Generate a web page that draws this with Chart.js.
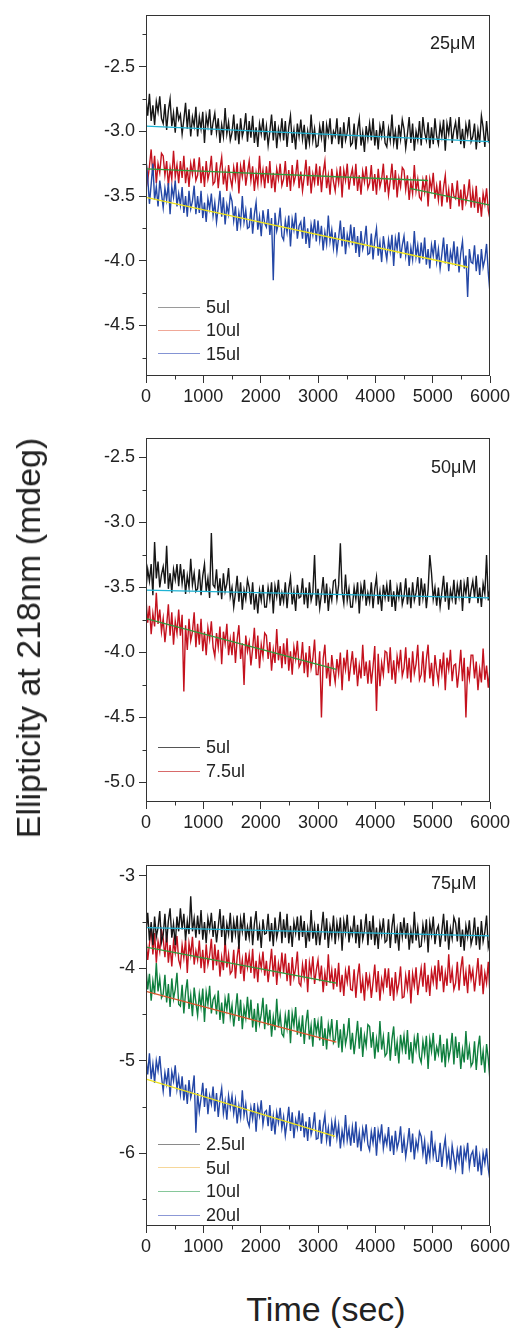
<!DOCTYPE html>
<html>
<head>
<meta charset="utf-8">
<script src="https://cdn.jsdelivr.net/npm/chart.js@4.4.1/dist/chart.umd.min.js"></script>
<style>
  body { margin: 0; background: #fff; width: 514px; height: 1328px; position: relative; overflow: hidden; font-family: 'Liberation Sans', Arial, sans-serif; color: #222; }
  canvas { position: absolute; left: 0; }
  .txt { position: absolute; white-space: nowrap; line-height: 1; }
  .leg { position: absolute; left: 158px; height: 20px; font-size: 18px; white-space: nowrap; }
  .leg span { display: inline-block; width: 42px; height: 0; border-top: 1px solid; vertical-align: middle; margin-right: 6px; position: relative; top: -1px; }
</style>
</head>
<body>
<canvas id="c1" width="514" height="416" style="top:0px"></canvas>
<canvas id="c2" width="514" height="422" style="top:420px"></canvas>
<canvas id="c3" width="514" height="416" style="top:850px"></canvas>

<div class="txt" style="left:28px; top:638px; font-size:34px; transform: translate(-50%,-50%) rotate(-90deg);">Ellipticity at 218nm (mdeg)</div>
<div class="txt" style="left:326px; top:1309px; font-size:34px; transform: translate(-50%,-50%);">Time (sec)</div>
<div class="txt" style="left:430px; top:34px; font-size:18px;">25μM</div>
<div class="txt" style="left:431px; top:458px; font-size:18px;">50μM</div>
<div class="txt" style="left:431px; top:874px; font-size:18px;">75μM</div>

<script>
// time axis (sec), one reading every 30 s
const times = [0,30,60,90,120,150,180,210,240,270,300,330,360,390,420,450,480,510,540,570,
  600,630,660,690,720,750,780,810,840,870,900,930,960,990,1020,1050,1080,1110,1140,1170,
  1200,1230,1260,1290,1320,1350,1380,1410,1440,1470,1500,1530,1560,1590,1620,1650,1680,1710,1740,1770,
  1800,1830,1860,1890,1920,1950,1980,2010,2040,2070,2100,2130,2160,2190,2220,2250,2280,2310,2340,2370,
  2400,2430,2460,2490,2520,2550,2580,2610,2640,2670,2700,2730,2760,2790,2820,2850,2880,2910,2940,2970,
  3000,3030,3060,3090,3120,3150,3180,3210,3240,3270,3300,3330,3360,3390,3420,3450,3480,3510,3540,3570,
  3600,3630,3660,3690,3720,3750,3780,3810,3840,3870,3900,3930,3960,3990,4020,4050,4080,4110,4140,4170,
  4200,4230,4260,4290,4320,4350,4380,4410,4440,4470,4500,4530,4560,4590,4620,4650,4680,4710,4740,4770,
  4800,4830,4860,4890,4920,4950,4980,5010,5040,5070,5100,5130,5160,5190,5220,5250,5280,5310,5340,5370,
  5400,5430,5460,5490,5520,5550,5580,5610,5640,5670,5700,5730,5760,5790,5820,5850,5880,5910,5940,5970,
  6000];

// ---- 25uM panel ----
const p1_5ul = [
  -2.75,-2.88,-2.71,-2.92,-2.80,-2.95,-2.77,-2.85,-2.73,-2.90,
  -2.94,-2.79,-2.99,-2.84,-2.75,-2.96,-2.86,-3.01,-2.81,-2.91,
  -2.87,-3.02,-2.91,-2.78,-2.98,-2.83,-3.04,-2.89,-2.96,-2.81,
  -3.04,-2.89,-2.98,-2.85,-3.09,-2.88,-2.96,-2.83,-3.03,-2.93,
  -2.86,-3.01,-2.90,-3.09,-2.95,-3.04,-2.82,-3.02,-2.93,-3.07,
  -3.01,-2.87,-3.07,-2.94,-3.10,-2.90,-3.04,-2.98,-2.86,-3.08,
  -2.92,-3.05,-2.88,-3.09,-2.97,-3.12,-2.94,-3.02,-2.90,-3.07,
  -2.96,-3.11,-3.00,-2.87,-3.07,-2.92,-3.13,-2.98,-3.05,-2.90,
  -3.07,-2.92,-3.12,-2.97,-2.88,-3.09,-2.99,-3.14,-2.94,-3.04,
  -2.91,-3.06,-2.95,-3.14,-3.00,-3.09,-2.87,-3.07,-2.98,-3.12,
  -3.11,-2.96,-3.05,-2.92,-3.16,-2.95,-3.03,-2.90,-3.10,-3.00,
  -3.04,-2.90,-3.10,-2.97,-3.13,-2.93,-3.07,-3.01,-2.89,-3.11,
  -3.09,-2.94,-3.14,-2.99,-2.90,-3.11,-3.01,-3.16,-2.96,-3.06,
  -2.94,-3.07,-2.90,-3.11,-2.99,-3.14,-2.96,-3.04,-2.92,-3.09,
  -3.12,-2.98,-3.07,-2.87,-3.09,-3.00,-3.14,-2.95,-3.06,-2.91,
  -2.98,-3.13,-3.02,-2.89,-3.09,-2.94,-3.15,-3.00,-3.07,-2.92,
  -3.11,-2.89,-3.01,-3.07,-2.93,-3.13,-2.97,-3.10,-2.90,-3.04,
  -3.10,-2.95,-3.04,-2.91,-3.15,-2.94,-3.02,-2.89,-3.09,-2.99,
  -2.93,-3.06,-2.89,-3.10,-2.98,-3.13,-2.95,-3.03,-2.91,-3.08,
  -3.04,-2.94,-3.14,-2.99,-3.09,-2.88,-2.97,-3.12,-2.92,-3.07,
  -3.10];
const p1_10ul = [
  -3.23,-3.38,-3.27,-3.14,-3.34,-3.19,-3.40,-3.25,-3.32,-3.17,
  -3.19,-3.34,-3.23,-3.42,-3.28,-3.37,-3.15,-3.35,-3.26,-3.40,
  -3.23,-3.36,-3.19,-3.40,-3.28,-3.43,-3.25,-3.33,-3.21,-3.38,
  -3.34,-3.20,-3.40,-3.27,-3.43,-3.23,-3.37,-3.31,-3.19,-3.41,
  -3.39,-3.24,-3.44,-3.29,-3.20,-3.41,-3.31,-3.46,-3.26,-3.36,
  -3.43,-3.28,-3.37,-3.24,-3.48,-3.27,-3.35,-3.22,-3.42,-3.32,
  -3.23,-3.38,-3.27,-3.46,-3.32,-3.41,-3.19,-3.39,-3.30,-3.44,
  -3.27,-3.40,-3.23,-3.44,-3.32,-3.47,-3.29,-3.37,-3.25,-3.42,
  -3.37,-3.23,-3.43,-3.30,-3.46,-3.26,-3.40,-3.34,-3.22,-3.44,
  -3.31,-3.46,-3.35,-3.22,-3.42,-3.27,-3.48,-3.33,-3.40,-3.25,
  -3.42,-3.27,-3.47,-3.32,-3.23,-3.44,-3.34,-3.49,-3.29,-3.39,
  -3.46,-3.31,-3.40,-3.27,-3.51,-3.30,-3.38,-3.25,-3.45,-3.35,
  -3.29,-3.42,-3.25,-3.46,-3.34,-3.49,-3.31,-3.39,-3.27,-3.44,
  -3.40,-3.26,-3.46,-3.33,-3.49,-3.29,-3.43,-3.37,-3.25,-3.47,
  -3.34,-3.49,-3.38,-3.25,-3.45,-3.30,-3.51,-3.36,-3.43,-3.28,
  -3.30,-3.45,-3.34,-3.53,-3.39,-3.48,-3.26,-3.46,-3.37,-3.51,
  -3.53,-3.38,-3.47,-3.34,-3.58,-3.37,-3.45,-3.32,-3.52,-3.42,
  -3.53,-3.38,-3.58,-3.43,-3.34,-3.55,-3.45,-3.60,-3.40,-3.50,
  -3.52,-3.38,-3.58,-3.45,-3.61,-3.41,-3.55,-3.49,-3.37,-3.59,
  -3.46,-3.59,-3.42,-3.63,-3.51,-3.66,-3.48,-3.56,-3.44,-3.61,
  -3.68];
const p1_15ul = [
  -3.22,-3.36,-3.56,-3.41,-3.25,-3.53,-3.43,-3.58,-3.38,-3.48,
  -3.59,-3.44,-3.53,-3.40,-3.64,-3.43,-3.51,-3.38,-3.58,-3.48,
  -3.57,-3.43,-3.63,-3.50,-3.66,-3.46,-3.60,-3.54,-3.42,-3.64,
  -3.50,-3.63,-3.46,-3.67,-3.55,-3.70,-3.52,-3.60,-3.48,-3.65,
  -3.55,-3.70,-3.59,-3.46,-3.66,-3.51,-3.72,-3.57,-3.64,-3.49,
  -3.54,-3.69,-3.58,-3.77,-3.63,-3.72,-3.50,-3.70,-3.61,-3.75,
  -3.74,-3.59,-3.79,-3.64,-3.55,-3.76,-3.66,-3.81,-3.61,-3.71,
  -3.74,-3.60,-3.80,-3.67,-4.15,-3.63,-3.77,-3.71,-3.59,-3.81,
  -3.84,-3.69,-3.78,-3.65,-3.89,-3.68,-3.76,-3.63,-3.83,-3.73,
  -3.70,-3.83,-3.66,-3.87,-3.75,-3.90,-3.72,-3.80,-3.68,-3.85,
  -3.69,-3.84,-3.73,-3.92,-3.78,-3.87,-3.65,-3.85,-3.76,-3.90,
  -3.78,-3.93,-3.82,-3.69,-3.89,-3.74,-3.95,-3.80,-3.87,-3.72,
  -3.88,-3.74,-3.94,-3.81,-3.97,-3.77,-3.91,-3.85,-3.73,-3.95,
  -3.94,-3.79,-3.99,-3.84,-3.75,-3.96,-3.86,-4.01,-3.81,-3.91,
  -3.99,-3.84,-3.93,-3.80,-4.04,-3.83,-3.91,-3.78,-3.98,-3.88,
  -3.81,-3.96,-3.85,-4.04,-3.90,-3.99,-3.77,-3.97,-3.88,-4.02,
  -3.86,-3.99,-3.82,-4.03,-3.91,-4.06,-3.88,-3.96,-3.84,-4.01,
  -3.91,-4.06,-3.95,-3.82,-4.02,-3.87,-4.08,-3.93,-4.00,-3.85,
  -4.04,-3.89,-4.09,-3.94,-3.85,-4.06,-3.96,-4.28,-3.91,-4.01,
  -4.02,-3.88,-4.08,-3.95,-4.11,-3.91,-4.05,-3.99,-3.87,-4.09,
  -4.25];
// straight-line fits drawn over the traces: [t0, t1] -> [y0, y1]
const p1_fitA_t = [0, 6000], p1_fitA_y = [-2.96, -3.08];
const p1_fitB_t = [0, 4920], p1_fitB_y = [-3.29, -3.38];
const p1_fitC_t = [4600, 6000], p1_fitC_y = [-3.44, -3.57];
const p1_fitD_t = [0, 5620], p1_fitD_y = [-3.51, -4.05];

// ---- 50uM panel ----
const p2_5ul = [
  -3.51,-3.36,-3.45,-3.32,-3.56,-3.15,-3.43,-3.30,-3.50,-3.40,
  -3.34,-3.47,-3.18,-3.51,-3.39,-3.54,-3.36,-3.44,-3.32,-3.49,
  -3.32,-3.47,-3.36,-3.55,-3.41,-3.50,-3.28,-3.48,-3.39,-3.53,
  -3.51,-3.36,-3.56,-3.41,-3.32,-3.53,-3.43,-3.58,-3.08,-3.48,
  -3.50,-3.36,-3.56,-3.43,-3.59,-3.39,-3.53,-3.47,-3.35,-3.57,
  -3.50,-3.65,-3.54,-3.41,-3.61,-3.46,-3.67,-3.52,-3.59,-3.44,
  -3.50,-3.63,-3.46,-3.67,-3.55,-3.70,-3.52,-3.60,-3.48,-3.65,
  -3.65,-3.50,-3.59,-3.46,-3.70,-3.49,-3.57,-3.44,-3.64,-3.54,
  -3.61,-3.46,-3.66,-3.51,-3.42,-3.63,-3.53,-3.68,-3.48,-3.58,
  -3.57,-3.43,-3.63,-3.50,-3.66,-3.46,-3.60,-3.54,-3.25,-3.64,
  -3.51,-3.66,-3.55,-3.42,-3.62,-3.47,-3.68,-3.53,-3.60,-3.45,
  -3.44,-3.59,-3.48,-3.16,-3.53,-3.62,-3.40,-3.60,-3.51,-3.65,
  -3.65,-3.50,-3.59,-3.46,-3.70,-3.49,-3.57,-3.44,-3.64,-3.54,
  -3.61,-3.46,-3.66,-3.51,-3.42,-3.63,-3.53,-3.68,-3.48,-3.58,
  -3.48,-3.61,-3.44,-3.65,-3.53,-3.68,-3.50,-3.58,-3.46,-3.63,
  -3.57,-3.43,-3.63,-3.50,-3.66,-3.46,-3.60,-3.54,-3.42,-3.64,
  -3.43,-3.58,-3.47,-3.66,-3.52,-3.25,-3.39,-3.59,-3.50,-3.64,
  -3.50,-3.65,-3.54,-3.41,-3.61,-3.46,-3.67,-3.52,-3.59,-3.44,
  -3.63,-3.48,-3.57,-3.44,-3.68,-3.47,-3.55,-3.42,-3.62,-3.52,
  -3.45,-3.58,-3.41,-3.62,-3.50,-3.65,-3.47,-3.55,-3.25,-3.60,
  -3.50];
const p2_7_5ul = [
  -3.59,-3.77,-3.64,-3.86,-3.70,-3.80,-3.54,-3.78,-3.67,-3.84,
  -3.74,-3.92,-3.79,-3.63,-3.87,-3.69,-3.94,-3.76,-3.85,-3.67,
  -3.87,-3.71,-4.30,-3.79,-3.98,-3.74,-3.91,-3.84,-3.69,-3.96,
  -3.78,-3.94,-3.74,-3.99,-3.84,-4.02,-3.81,-3.90,-3.76,-3.96,
  -4.03,-3.85,-3.96,-3.80,-4.09,-3.84,-3.93,-3.78,-4.02,-3.90,
  -4.02,-3.84,-4.08,-3.90,-3.79,-4.05,-3.93,-4.25,-3.87,-3.99,
  -3.92,-4.10,-3.97,-3.81,-4.05,-3.87,-4.12,-3.94,-4.03,-3.85,
  -3.87,-4.05,-3.92,-4.14,-3.98,-4.08,-3.82,-4.06,-3.95,-4.12,
  -3.93,-4.09,-3.89,-4.14,-3.99,-4.17,-3.96,-4.05,-3.91,-4.11,
  -4.08,-3.92,-4.16,-4.00,-4.19,-3.95,-4.12,-4.05,-3.90,-4.17,
  -4.17,-3.99,-4.50,-4.05,-3.94,-4.20,-4.08,-4.26,-4.02,-4.14,
  -4.23,-4.05,-4.16,-4.00,-4.29,-4.04,-4.13,-3.98,-4.22,-4.10,
  -3.99,-4.17,-4.04,-4.26,-4.10,-4.20,-3.94,-4.18,-4.07,-4.24,
  -4.06,-4.24,-4.11,-3.95,-4.45,-4.01,-4.26,-4.08,-4.17,-3.99,
  -4.00,-4.16,-3.96,-4.21,-4.06,-4.24,-4.03,-4.12,-3.98,-4.18,
  -4.12,-3.96,-4.20,-4.04,-4.23,-3.99,-4.16,-4.09,-3.94,-4.21,
  -4.17,-3.99,-4.23,-4.05,-3.94,-4.20,-4.08,-4.26,-4.02,-4.14,
  -4.23,-4.05,-4.16,-4.00,-4.29,-4.04,-4.13,-3.98,-4.22,-4.10,
  -4.09,-4.27,-4.14,-3.98,-4.22,-4.04,-4.50,-4.11,-4.20,-4.02,
  -4.02,-4.20,-4.07,-4.29,-4.13,-4.23,-3.97,-4.21,-4.10,-4.27,
  -4.12];
const p2_fitA_t = [0, 6000], p2_fitA_y = [-3.52, -3.58];
const p2_fitB_t = [0, 3320], p2_fitB_y = [-3.74, -4.13];

// ---- 75uM panel ----
const p3_2_5ul = [
  -3.61,-3.40,-3.70,-3.50,-3.75,-3.44,-3.66,-3.56,-3.38,-3.72,
  -3.64,-3.41,-3.72,-3.49,-3.35,-3.67,-3.52,-3.75,-3.44,-3.60,
  -3.35,-3.58,-3.41,-3.70,-3.49,-3.63,-3.22,-3.60,-3.46,-3.67,
  -3.43,-3.63,-3.37,-3.69,-3.50,-3.73,-3.46,-3.58,-3.40,-3.66,
  -3.49,-3.72,-3.55,-3.36,-3.66,-3.43,-3.75,-3.52,-3.63,-3.40,
  -3.72,-3.49,-3.63,-3.43,-3.79,-3.47,-3.60,-3.40,-3.70,-3.55,
  -3.67,-3.44,-3.75,-3.52,-3.38,-3.70,-3.55,-3.78,-3.47,-3.63,
  -3.62,-3.41,-3.71,-3.51,-3.76,-3.45,-3.67,-3.57,-3.39,-3.73,
  -3.47,-3.67,-3.41,-3.73,-3.54,-3.77,-3.50,-3.62,-3.44,-3.70,
  -3.43,-3.66,-3.49,-3.78,-3.57,-3.71,-3.37,-3.68,-3.54,-3.75,
  -3.52,-3.75,-3.58,-3.39,-3.69,-3.46,-3.78,-3.55,-3.66,-3.43,
  -3.74,-3.51,-3.65,-3.45,-3.81,-3.49,-3.62,-3.42,-3.72,-3.57,
  -3.64,-3.43,-3.73,-3.53,-3.78,-3.47,-3.69,-3.59,-3.41,-3.75,
  -3.49,-3.69,-3.43,-3.75,-3.56,-3.79,-3.52,-3.64,-3.46,-3.72,
  -3.70,-3.47,-3.78,-3.55,-3.41,-3.73,-3.58,-3.81,-3.50,-3.66,
  -3.45,-3.68,-3.51,-3.80,-3.59,-3.73,-3.39,-3.70,-3.56,-3.77,
  -3.76,-3.53,-3.67,-3.47,-3.83,-3.51,-3.64,-3.44,-3.74,-3.59,
  -3.54,-3.77,-3.60,-3.41,-3.71,-3.48,-3.80,-3.57,-3.68,-3.45,
  -3.51,-3.71,-3.45,-3.77,-3.58,-3.81,-3.54,-3.66,-3.48,-3.74,
  -3.66,-3.45,-3.75,-3.55,-3.80,-3.49,-3.71,-3.61,-3.43,-3.77,
  -3.68];
const p3_5ul = [
  -3.68,-3.91,-3.74,-3.55,-3.85,-3.62,-3.94,-3.71,-3.82,-3.59,
  -3.68,-3.88,-3.62,-3.94,-3.75,-3.98,-3.71,-3.83,-3.65,-3.91,
  -3.98,-3.75,-3.89,-3.69,-4.05,-3.73,-3.86,-3.66,-3.96,-3.81,
  -3.91,-3.70,-4.00,-3.80,-4.05,-3.74,-3.96,-3.86,-3.68,-4.02,
  -3.74,-3.97,-3.80,-4.09,-3.88,-4.02,-3.68,-3.99,-3.85,-4.06,
  -4.03,-3.80,-4.11,-3.88,-3.74,-4.06,-3.91,-4.14,-3.83,-3.99,
  -3.85,-4.05,-3.79,-4.11,-3.92,-4.15,-3.88,-4.00,-3.82,-4.08,
  -3.92,-4.15,-3.98,-3.79,-4.09,-3.86,-4.18,-3.95,-4.06,-3.83,
  -4.05,-3.84,-4.14,-3.94,-4.19,-3.88,-4.10,-4.00,-3.82,-4.16,
  -4.19,-3.96,-4.10,-3.90,-4.26,-3.94,-4.07,-3.87,-4.17,-4.02,
  -3.91,-4.14,-3.97,-4.26,-4.05,-4.19,-3.85,-4.16,-4.02,-4.23,
  -4.00,-4.20,-3.94,-4.26,-4.07,-4.30,-4.03,-4.15,-3.97,-4.23,
  -4.24,-4.01,-4.32,-4.09,-3.95,-4.27,-4.12,-4.35,-4.04,-4.20,
  -4.09,-4.32,-4.15,-3.96,-4.26,-4.03,-4.35,-4.12,-4.23,-4.00,
  -4.21,-4.00,-4.30,-4.10,-4.35,-4.04,-4.26,-4.16,-3.98,-4.32,
  -4.31,-4.08,-4.22,-4.02,-4.38,-4.06,-4.19,-3.99,-4.29,-4.14,
  -4.00,-4.20,-3.94,-4.26,-4.07,-4.30,-4.03,-4.15,-3.97,-4.23,
  -3.91,-4.14,-3.97,-4.26,-4.05,-4.19,-3.85,-4.16,-4.02,-4.23,
  -4.16,-3.93,-4.24,-4.01,-3.87,-4.19,-4.04,-4.27,-3.96,-4.12,
  -4.02,-4.25,-4.08,-3.89,-4.19,-3.96,-4.28,-4.05,-4.16,-3.93,
  -4.30];
const p3_10ul = [
  -4.00,-4.23,-4.06,-4.35,-4.14,-4.28,-3.94,-4.25,-4.11,-4.32,
  -4.28,-4.07,-4.37,-4.17,-4.42,-4.11,-4.33,-4.23,-4.05,-4.39,
  -4.41,-4.18,-4.49,-4.26,-4.12,-4.44,-4.29,-4.52,-4.21,-4.37,
  -4.51,-4.28,-4.42,-4.22,-4.58,-4.26,-4.39,-4.19,-4.49,-4.34,
  -4.30,-4.50,-4.24,-4.56,-4.37,-4.60,-4.33,-4.45,-4.27,-4.53,
  -4.40,-4.63,-4.46,-4.27,-4.57,-4.34,-4.66,-4.43,-4.54,-4.31,
  -4.55,-4.34,-4.64,-4.44,-4.69,-4.38,-4.60,-4.50,-4.32,-4.66,
  -4.39,-4.62,-4.45,-4.74,-4.53,-4.67,-4.33,-4.64,-4.50,-4.71,
  -4.74,-4.51,-4.65,-4.45,-4.81,-4.49,-4.62,-4.42,-4.72,-4.57,
  -4.74,-4.51,-4.82,-4.59,-4.45,-4.77,-4.62,-4.85,-4.54,-4.70,
  -4.58,-4.78,-4.52,-4.84,-4.65,-4.88,-4.61,-4.73,-4.55,-4.81,
  -4.77,-4.56,-4.86,-4.66,-4.91,-4.60,-4.82,-4.72,-4.54,-4.88,
  -4.70,-4.93,-4.76,-4.57,-4.87,-4.64,-4.96,-4.73,-4.84,-4.61,
  -4.63,-4.86,-4.69,-4.98,-4.77,-4.91,-4.57,-4.88,-4.74,-4.95,
  -4.92,-4.69,-5.00,-4.77,-4.63,-4.95,-4.80,-5.03,-4.72,-4.88,
  -4.73,-4.93,-4.67,-4.99,-4.80,-5.03,-4.76,-4.88,-4.70,-4.96,
  -5.02,-4.79,-4.93,-4.73,-5.09,-4.77,-4.90,-4.70,-5.00,-4.85,
  -4.93,-4.72,-5.02,-4.82,-5.07,-4.76,-4.98,-4.88,-4.70,-5.04,
  -4.74,-4.97,-4.80,-5.09,-4.88,-5.02,-4.68,-4.99,-4.85,-5.06,
  -5.02,-4.79,-5.10,-4.87,-4.73,-5.05,-4.90,-5.13,-4.82,-4.98,
  -5.22];
const p3_20ul = [
  -4.98,-5.15,-4.92,-5.20,-5.04,-5.24,-5.00,-5.11,-4.95,-5.17,
  -5.33,-5.13,-5.25,-5.08,-5.39,-5.12,-5.22,-5.05,-5.31,-5.18,
  -5.36,-5.17,-5.43,-5.26,-5.47,-5.21,-5.40,-5.32,-5.16,-5.78,
  -5.35,-5.55,-5.41,-5.24,-5.50,-5.30,-5.58,-5.38,-5.47,-5.28,
  -5.55,-5.35,-5.61,-5.42,-5.30,-5.57,-5.44,-5.64,-5.38,-5.51,
  -5.38,-5.57,-5.43,-5.68,-5.49,-5.61,-5.32,-5.59,-5.47,-5.65,
  -5.71,-5.51,-5.63,-5.46,-5.77,-5.50,-5.60,-5.43,-5.69,-5.56,
  -5.54,-5.71,-5.48,-5.76,-5.60,-5.80,-5.56,-5.67,-5.51,-5.73,
  -5.61,-5.81,-5.67,-5.50,-5.76,-5.56,-5.84,-5.64,-5.73,-5.54,
  -5.76,-5.57,-5.83,-5.66,-5.87,-5.61,-5.80,-5.72,-5.56,-5.85,
  -5.84,-5.64,-5.90,-5.71,-5.59,-5.86,-5.73,-5.93,-5.67,-5.80,
  -5.65,-5.84,-5.70,-5.95,-5.76,-5.88,-5.59,-5.86,-5.74,-5.92,
  -5.72,-5.89,-5.66,-5.94,-5.78,-5.98,-5.74,-5.85,-5.69,-5.91,
  -5.97,-5.77,-5.89,-5.72,-6.03,-5.76,-5.86,-5.69,-5.95,-5.82,
  -5.91,-5.72,-5.98,-5.81,-6.02,-5.76,-5.95,-5.87,-5.71,-6.00,
  -5.84,-6.04,-5.90,-5.73,-5.99,-5.79,-6.07,-5.87,-5.96,-5.77,
  -5.82,-6.01,-5.87,-6.12,-5.93,-6.05,-5.76,-6.03,-5.91,-6.09,
  -6.09,-5.89,-6.15,-5.96,-5.84,-6.11,-5.98,-6.18,-5.92,-6.05,
  -6.17,-5.97,-6.09,-5.92,-6.23,-5.96,-6.06,-5.89,-6.15,-6.02,
  -5.98,-6.15,-5.92,-6.20,-6.04,-6.24,-6.00,-6.11,-5.95,-6.17,
  -6.30];
const p3_fitA_t = [0, 6000], p3_fitA_y = [-3.56, -3.65];
const p3_fitB_t = [0, 3320], p3_fitB_y = [-3.77, -4.16];
const p3_fitC_t = [0, 3320], p3_fitC_y = [-4.25, -4.80];
const p3_fitD_t = [0, 3300], p3_fitD_y = [-5.20, -5.82];

Chart.defaults.font.family = "'Liberation Sans', Arial, sans-serif";
Chart.defaults.font.size = 18;
Chart.defaults.color = '#222';

function trace(label, vals, color, order) {
  return {
    label: label,
    data: times.map((t, i) => ({ x: t, y: vals[i] })),
    borderColor: color, borderWidth: 1.4, pointRadius: 0, tension: 0, order: order
  };
}
function fit(ts, ys, color) {
  return {
    label: 'fit',
    data: ts.map((t, i) => ({ x: t, y: ys[i] })),
    borderColor: color, borderWidth: 1.3, pointRadius: 0, order: 0
  };
}

// box round the plot + the short minor ticks
const frame = {
  id: 'frame',
  afterDraw(chart, args, opts) {
    const ctx = chart.ctx, a = chart.chartArea;
    const xs = chart.scales.x, ys = chart.scales.y;
    ctx.save();
    ctx.strokeStyle = '#333';
    ctx.lineWidth = 1;
    const l = Math.round(a.left) + 0.5, r = Math.round(a.right) - 0.5;
    const t = Math.round(a.top) + 0.5, b = Math.round(a.bottom) - 0.5;
    ctx.strokeRect(l, t, r - l, b - t);
    ctx.beginPath();
    for (let v = 500; v < 6000; v += 1000) {
      const px = Math.round(xs.getPixelForValue(v)) + 0.5;
      ctx.moveTo(px, b); ctx.lineTo(px, b + 4);
    }
    const step = opts.yMinor;
    for (let v = Math.ceil(ys.min / step) * step; v <= ys.max; v += step) {
      if (Math.abs(v / (step * 2) - Math.round(v / (step * 2))) < 0.01) continue;
      const py = Math.round(ys.getPixelForValue(v)) + 0.5;
      ctx.moveTo(l, py); ctx.lineTo(l - 4, py);
    }
    ctx.stroke();
    ctx.restore();
  }
};

function makeChart(id, datasets, yMin, yMax, yStep, decimals, padTop) {
  return new Chart(document.getElementById(id), {
    type: 'line',
    data: { datasets: datasets },
    plugins: [frame],
    options: {
      responsive: false,
      animation: false,
      layout: { padding: { left: 0, right: 24, top: padTop, bottom: 0 } },
      plugins: { legend: { display: false }, tooltip: { enabled: false }, frame: { yMinor: yStep / 2 } },
      scales: {
        x: {
          type: 'linear', min: 0, max: 6000,
          ticks: { stepSize: 1000, padding: 3, maxRotation: 0, color: '#222', callback: (v) => String(v) },
          grid: { drawOnChartArea: false, tickLength: 7, color: '#333' },
          border: { display: false },
          afterFit: (s) => { s.height = 40; }
        },
        y: {
          min: yMin, max: yMax,
          ticks: { stepSize: yStep, includeBounds: false, padding: 4, color: '#222',
                   callback: (v) => v.toFixed(decimals) },
          grid: { drawOnChartArea: false, tickLength: 7, color: '#333' },
          border: { display: false },
          afterFit: (s) => { s.width = 146; }
        }
      }
    }
  });
}

makeChart('c1', [
  trace('5ul', p1_5ul, '#161616', 3),
  trace('10ul', p1_10ul, '#c4121e', 2),
  trace('15ul', p1_15ul, '#2447a6', 1),
  fit(p1_fitA_t, p1_fitA_y, '#1fb3d4'),
  fit(p1_fitB_t, p1_fitB_y, '#2f9a3c'),
  fit(p1_fitC_t, p1_fitC_y, '#2f9a3c'),
  fit(p1_fitD_t, p1_fitD_y, '#eee21a')
], -4.89, -2.1, 0.5, 1, 13);

makeChart('c2', [
  trace('5ul', p2_5ul, '#161616', 1),
  trace('7.5ul', p2_7_5ul, '#c4121e', 2),
  fit(p2_fitA_t, p2_fitA_y, '#1fb3d4'),
  fit(p2_fitB_t, p2_fitB_y, '#2f9a3c')
], -5.15, -2.35, 0.5, 1, 18);

makeChart('c3', [
  trace('2.5ul', p3_2_5ul, '#161616', 1),
  trace('5ul', p3_5ul, '#c4121e', 2),
  trace('10ul', p3_10ul, '#0f7f3e', 3),
  trace('20ul', p3_20ul, '#2447a6', 4),
  fit(p3_fitA_t, p3_fitA_y, '#1fb3d4'),
  fit(p3_fitB_t, p3_fitB_y, '#2f9a3c'),
  fit(p3_fitC_t, p3_fitC_y, '#d9542a'),
  fit(p3_fitD_t, p3_fitD_y, '#eee21a')
], -6.79, -2.88, 1, 0, 14);

// legends (pale line samples, as in the figure)
const leg1 = ['5ul', '10ul', '15ul'], leg1Col = ['#9a9a9a', '#f0a898', '#8494d4'];
const leg2 = ['5ul', '7.5ul'], leg2Col = ['#555555', '#d86a6a'];
const leg3 = ['2.5ul', '5ul', '10ul', '20ul'], leg3Col = ['#8a8a8a', '#f6d79a', '#86c79a', '#8c98d6'];

function legend(labels, colors, firstY, gap) {
  labels.forEach((lab, i) => {
    const d = document.createElement('div');
    d.className = 'leg';
    d.style.top = (firstY + i * gap - 10) + 'px';
    d.innerHTML = '<span style="border-color:' + colors[i] + '"></span>' + lab;
    document.body.appendChild(d);
  });
}
legend(leg1, leg1Col, 307, 23.3);
legend(leg2, leg2Col, 747, 24);
legend(leg3, leg3Col, 1144, 23.7);
</script>
</body>
</html>
